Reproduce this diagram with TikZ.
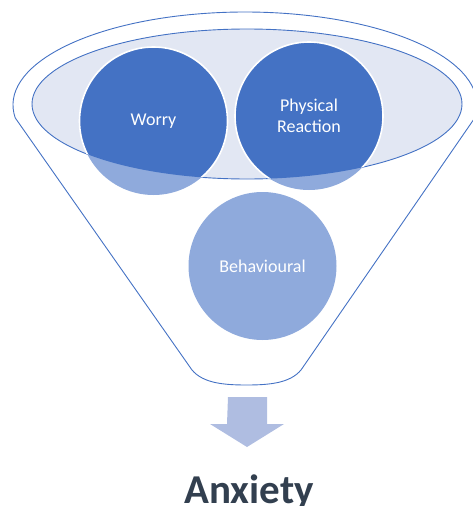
\documentclass[tikz,border=0pt]{standalone}
\usepackage{fontspec}
\setmainfont{Carlito}
\usetikzlibrary{backgrounds}
\definecolor{funnelblue}{HTML}{4472C4}
\definecolor{bowlfill}{HTML}{E2E7F3}
\definecolor{palecircle}{HTML}{8FAADC}
\definecolor{arrowfill}{HTML}{AFBDE1}
\definecolor{titlegray}{HTML}{323F4F}
\tikzset{
  bubble/.style={circle, minimum size=148pt, inner sep=0pt, align=center,
    text=white, font=\fontsize{18}{21}\selectfont},
}

\begin{document}
\begin{tikzpicture}[x=1pt,y=-1pt]
            \useasboundingbox (0,0) rectangle (473,506);
            \node[bubble] (worry) at (153.5,121) {Worry};
            \node[bubble] (physical) at (309,116) {Physical\\Reaction};
            \node[bubble] (behav) at (262.5,266) {Behavioural};
            \begin{scope}[on background layer]
                \draw[funnelblue, line width=0.9pt] (245,105) ++(172:232 and 93)
                    arc[start angle=172, end angle=368, x radius=232, y radius=93]
                    -- (301,370) .. controls (290,383) and (270,385) .. (246.5,385)
                    .. controls (223,385) and (203,383) .. (192,370) -- cycle;
                \draw[funnelblue, line width=0.9pt, fill=bowlfill] (247,104) ellipse[x radius=215, y radius=75];
                \foreach \c in {worry, physical, behav}
                    \fill[palecircle] (\c.center) circle[radius=74];
                \clip (247,104) ellipse[x radius=215, y radius=75];
                \foreach \c in {worry, physical}
                    \draw[white, line width=1.6pt, fill=funnelblue] (\c.center) circle[radius=74];
            \end{scope}
            \coordinate (shafttop) at (247.5,397);
            \fill[arrowfill] (shafttop) ++(-19.5,0) -- ++(39,0) -- ++(0,27) -- ++(17,0)
                -- ++(-37,23) -- ++(-37,-23) -- ++(17,0) -- cycle;
            \node[anchor=base, font=\fontsize{41}{41}\selectfont\bfseries, text=titlegray] (anxiety) at (249,503) {Anxiety};
        \end{tikzpicture}
\end{document}
